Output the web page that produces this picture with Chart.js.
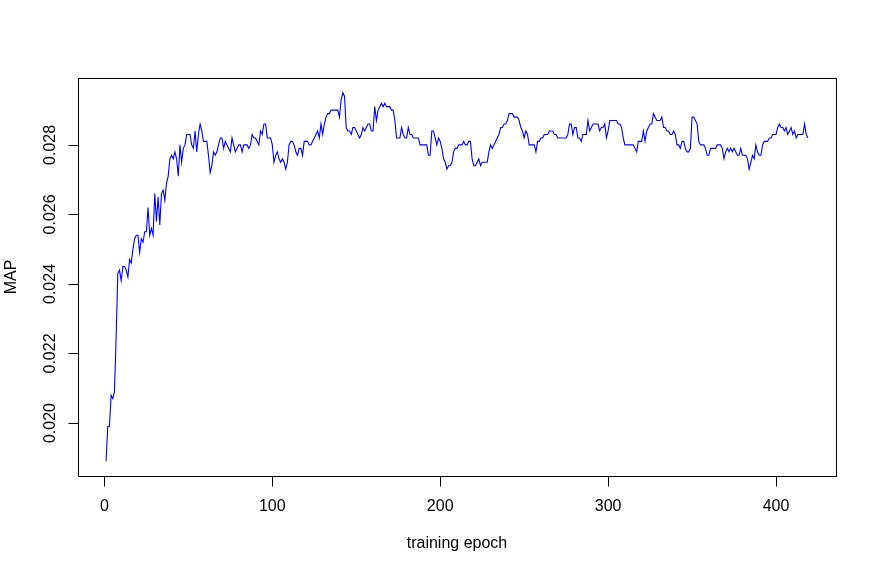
<!DOCTYPE html>
<html>
<head>
<meta charset="utf-8">
<script src="https://cdn.jsdelivr.net/npm/chart.js@4.4.1/dist/chart.umd.min.js"></script>
<style>
  html, body { margin: 0; padding: 0; background: #ffffff; }
  #wrap { width: 876px; height: 574px; }
</style>
</head>
<body>
<div id="wrap"><canvas id="c" width="876" height="574"></canvas></div>
<script>
// MAP per training epoch (epochs 1..419)
const mapValues = [
  0.0189, 0.0199, 0.0199, 0.0208, 0.0207, 0.0209, 0.0225, 0.0243, 0.0244, 0.0241,
  0.0245, 0.0245, 0.0244, 0.0242, 0.0247, 0.0246, 0.0250, 0.0253, 0.0254, 0.0254,
  0.0249, 0.0253, 0.0252, 0.0255, 0.0255, 0.0262, 0.0254, 0.0256, 0.0254, 0.0266,
  0.0258, 0.0265, 0.0257, 0.0266, 0.0267, 0.0264, 0.0269, 0.0271, 0.0276, 0.0277,
  0.0276, 0.0278, 0.0276, 0.0271, 0.0280, 0.0275, 0.0279, 0.0280, 0.0283, 0.0283,
  0.0283, 0.0280, 0.0279, 0.0284, 0.0278, 0.0283, 0.0286, 0.0284, 0.0281, 0.0281,
  0.0281, 0.0277, 0.0272, 0.0274, 0.0278, 0.0277, 0.0278, 0.0280, 0.0282, 0.0282,
  0.0279, 0.0281, 0.0280, 0.0279, 0.0278, 0.0282, 0.0280, 0.0278, 0.0279, 0.0280,
  0.0280, 0.0278, 0.0280, 0.0280, 0.0280, 0.0279, 0.0280, 0.0283, 0.0282, 0.0282,
  0.0281, 0.0280, 0.0284, 0.0283, 0.0286, 0.0286, 0.0282, 0.0282, 0.0282, 0.0280,
  0.0275, 0.0277, 0.0278, 0.0276, 0.0275, 0.0276, 0.0275, 0.0273, 0.0275, 0.0280,
  0.0281, 0.0281, 0.0280, 0.0278, 0.0277, 0.0279, 0.0279, 0.0277, 0.0281, 0.0281,
  0.0281, 0.0280, 0.0280, 0.0281, 0.0282, 0.0283, 0.0284, 0.0282, 0.0286, 0.0283,
  0.0286, 0.0288, 0.0289, 0.0289, 0.0290, 0.0290, 0.0290, 0.0290, 0.0290, 0.0288,
  0.0293, 0.0295, 0.0294, 0.0285, 0.0284, 0.0284, 0.0283, 0.0285, 0.0285, 0.0284,
  0.0283, 0.0282, 0.0283, 0.0285, 0.0284, 0.0285, 0.0286, 0.0286, 0.0284, 0.0284,
  0.0291, 0.0287, 0.0290, 0.0291, 0.0292, 0.0291, 0.0292, 0.0291, 0.0291, 0.0291,
  0.0290, 0.0290, 0.0287, 0.0282, 0.0282, 0.0282, 0.0285, 0.0283, 0.0282, 0.0282,
  0.0285, 0.0283, 0.0283, 0.0282, 0.0282, 0.0282, 0.0282, 0.0280, 0.0280, 0.0280,
  0.0280, 0.0280, 0.0277, 0.0277, 0.0284, 0.0284, 0.0282, 0.0280, 0.0282, 0.0281,
  0.0279, 0.0276, 0.0275, 0.0273, 0.0274, 0.0274, 0.0275, 0.0278, 0.0279, 0.0279,
  0.0280, 0.0280, 0.0280, 0.0281, 0.0280, 0.0280, 0.0281, 0.0281, 0.0276, 0.0274,
  0.0274, 0.0275, 0.0276, 0.0274, 0.0275, 0.0275, 0.0275, 0.0275, 0.0278, 0.0280,
  0.0279, 0.0280, 0.0281, 0.0282, 0.0283, 0.0285, 0.0285, 0.0286, 0.0286, 0.0287,
  0.0289, 0.0289, 0.0289, 0.0288, 0.0288, 0.0288, 0.0287, 0.0285, 0.0284, 0.0282,
  0.0284, 0.0283, 0.0280, 0.0280, 0.0280, 0.0280, 0.0278, 0.0281, 0.0281, 0.0282,
  0.0282, 0.0283, 0.0283, 0.0283, 0.0284, 0.0284, 0.0284, 0.0283, 0.0283, 0.0282,
  0.0282, 0.0282, 0.0282, 0.0282, 0.0282, 0.0283, 0.0286, 0.0286, 0.0283, 0.0285,
  0.0285, 0.0282, 0.0282, 0.0281, 0.0283, 0.0283, 0.0283, 0.0287, 0.0284, 0.0285,
  0.0286, 0.0286, 0.0286, 0.0286, 0.0284, 0.0285, 0.0285, 0.0286, 0.0282, 0.0284,
  0.0287, 0.0287, 0.0287, 0.0287, 0.0287, 0.0286, 0.0286, 0.0285, 0.0282, 0.0280,
  0.0280, 0.0280, 0.0280, 0.0280, 0.0280, 0.0279, 0.0278, 0.0281, 0.0281, 0.0281,
  0.0284, 0.0281, 0.0284, 0.0285, 0.0286, 0.0286, 0.0289, 0.0288, 0.0287, 0.0287,
  0.0287, 0.0288, 0.0285, 0.0285, 0.0284, 0.0284, 0.0283, 0.0283, 0.0284, 0.0283,
  0.0280, 0.0280, 0.0279, 0.0281, 0.0281, 0.0279, 0.0278, 0.0278, 0.0279, 0.0288,
  0.0288, 0.0287, 0.0286, 0.0281, 0.0280, 0.0280, 0.0280, 0.0279, 0.0277, 0.0277,
  0.0279, 0.0279, 0.0279, 0.0279, 0.0280, 0.0280, 0.0280, 0.0279, 0.0276, 0.0278,
  0.0279, 0.0278, 0.0279, 0.0278, 0.0279, 0.0278, 0.0277, 0.0277, 0.0279, 0.0277,
  0.0277, 0.0277, 0.0276, 0.0273, 0.0275, 0.0277, 0.0276, 0.0280, 0.0278, 0.0277,
  0.0277, 0.0280, 0.0281, 0.0281, 0.0281, 0.0282, 0.0282, 0.0283, 0.0283, 0.0283,
  0.0285, 0.0286, 0.0285, 0.0285, 0.0284, 0.0285, 0.0283, 0.0284, 0.0285, 0.0283,
  0.0284, 0.0282, 0.0283, 0.0283, 0.0283, 0.0283, 0.0286, 0.0283, 0.0282
];
const epochs = mapValues.map((_, i) => i + 1);

const xTicks = [0, 100, 200, 300, 400];
const yTicks = [0.020, 0.022, 0.024, 0.026, 0.028];
const yTickLabels = ["0.020", "0.022", "0.024", "0.026", "0.028"];
const xTitle = "training epoch";
const yTitle = "MAP";

// R-style 4% axis extension
const xMinData = Math.min(...epochs), xMaxData = Math.max(...epochs);
const yMinData = Math.min(...mapValues), yMaxData = Math.max(...mapValues);
const xPad = (xMaxData - xMinData) * 0.04;
const yPad = (yMaxData - yMinData) * 0.04;

const FONT = '16px "Liberation Sans", Arial, Helvetica, sans-serif';

const rAxes = {
  id: 'rAxes',
  afterDraw(chart) {
    const ctx = chart.ctx;
    const a = chart.chartArea;
    const xs = chart.scales.x, ys = chart.scales.y;
    ctx.save();
    ctx.strokeStyle = '#000';
    ctx.lineWidth = 1;
    // box
    ctx.strokeRect(Math.round(a.left) + 0.5, Math.round(a.top) + 0.5,
                   Math.round(a.right - a.left), Math.round(a.bottom - a.top));
    ctx.fillStyle = '#000';
    ctx.font = FONT;
    // x axis ticks
    const by = Math.round(a.bottom) + 0.5;
    ctx.beginPath();
    const x0 = Math.round(xs.getPixelForValue(xTicks[0])) + 0.5;
    const x1 = Math.round(xs.getPixelForValue(xTicks[xTicks.length - 1])) + 0.5;
    ctx.moveTo(x0, by); ctx.lineTo(x1, by);
    xTicks.forEach(t => {
      const px = Math.round(xs.getPixelForValue(t)) + 0.5;
      ctx.moveTo(px, by); ctx.lineTo(px, by + 10);
    });
    ctx.stroke();
    ctx.textAlign = 'center';
    ctx.textBaseline = 'middle';
    xTicks.forEach(t => {
      ctx.fillText(String(t), xs.getPixelForValue(t), by + 30);
    });
    // y axis ticks
    const lx = Math.round(a.left) + 0.5;
    ctx.beginPath();
    const y0 = Math.round(ys.getPixelForValue(yTicks[0])) + 0.5;
    const y1 = Math.round(ys.getPixelForValue(yTicks[yTicks.length - 1])) + 0.5;
    ctx.moveTo(lx, y0); ctx.lineTo(lx, y1);
    yTicks.forEach(t => {
      const py = Math.round(ys.getPixelForValue(t)) + 0.5;
      ctx.moveTo(lx, py); ctx.lineTo(lx - 10, py);
    });
    ctx.stroke();
    yTicks.forEach((t, i) => {
      ctx.save();
      ctx.translate(lx - 28, ys.getPixelForValue(t));
      ctx.rotate(-Math.PI / 2);
      ctx.fillText(yTickLabels[i], 0, 0);
      ctx.restore();
    });
    // titles
    ctx.fillText(xTitle, (a.left + a.right) / 2, 544);
    ctx.save();
    ctx.translate(12, (a.top + a.bottom) / 2);
    ctx.rotate(-Math.PI / 2);
    ctx.fillText(yTitle, 0, 0);
    ctx.restore();
    ctx.restore();
  }
};

new Chart(document.getElementById('c'), {
  type: 'line',
  data: {
    datasets: [{
      data: epochs.map((e, i) => ({ x: e, y: mapValues[i] })),
      borderColor: '#0000ff',
      borderWidth: 1.1,
      pointRadius: 0,
      tension: 0,
      fill: false
    }]
  },
  options: {
    responsive: false,
    animation: false,
    devicePixelRatio: 1,
    layout: { padding: { left: 78, right: 40, top: 78, bottom: 98 } },
    plugins: { legend: { display: false }, tooltip: { enabled: false } },
    scales: {
      x: { type: 'linear', display: false, min: xMinData - xPad, max: xMaxData + xPad },
      y: { type: 'linear', display: false, min: yMinData - yPad, max: yMaxData + yPad }
    }
  },
  plugins: [rAxes]
});
</script>
</body>
</html>
